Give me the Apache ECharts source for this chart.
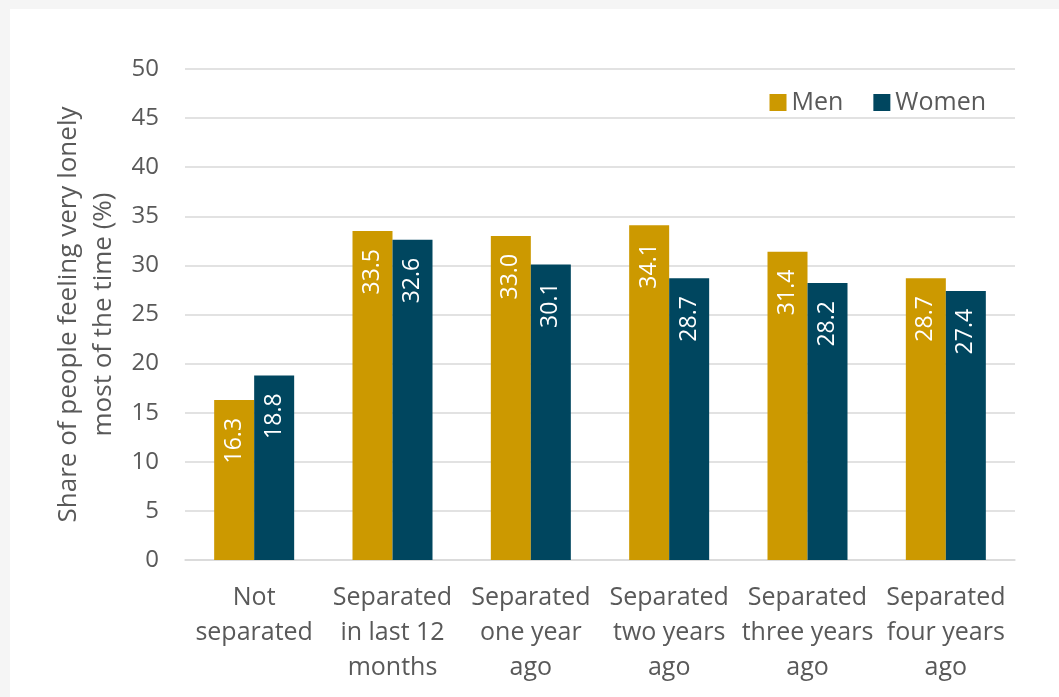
<!DOCTYPE html>
<html>
<head>
<meta charset="utf-8">
<script src="https://cdn.jsdelivr.net/npm/echarts@6/dist/echarts.min.js"></script>
<style>
html,body{margin:0;padding:0;background:#f5f5f5;width:1059px;height:697px;overflow:hidden;}
#panel{position:absolute;left:10px;top:9px;width:1049px;height:688px;background:#fff;}
#chart{position:absolute;left:0;top:0;width:1059px;height:697px;}
</style>
</head>
<body>
<div id="panel"></div>
<div id="chart"></div>
<script>
const categories = ["Not\nseparated", "Separated\nin last 12\nmonths", "Separated\none year\nago", "Separated\ntwo years\nago", "Separated\nthree years\nago", "Separated\nfour years\nago"];
const men = [16.3, 33.5, 33.0, 34.1, 31.4, 28.7];
const women = [18.8, 32.6, 30.1, 28.7, 28.2, 27.4];
const seriesNames = ["Men", "Women"];
const yAxisName = "Share of people feeling very lonely\nmost of the time (%)";

const FONT = "Open Sans";
const TXT = "#595959";
const chart = echarts.init(document.getElementById('chart'), null, {renderer: 'canvas'});
const labelCfg = {
  show: true,
  position: 'insideTop',
  rotate: 90,
  align: 'right',
  verticalAlign: 'middle',
  distance: 18,
  color: '#fff',
  fontFamily: FONT,
  fontSize: 23,
  formatter: p => p.value.toFixed(1)
};
chart.setOption({
  backgroundColor: 'transparent',
  animation: false,
  textStyle: {fontFamily: FONT},
  legend: {
    data: seriesNames,
    right: 68,
    top: 85,
    itemWidth: 17,
    itemHeight: 17,
    itemGap: 30,
    icon: 'rect',
    textStyle: {color: TXT, fontSize: 25, fontFamily: FONT}
  },
  grid: {left: 185, right: 44, top: 69, bottom: 137, containLabel: false},
  xAxis: {
    type: 'category',
    data: categories,
    axisTick: {show: false},
    axisLine: {lineStyle: {color: '#d9d9d9', width: 1.5}},
    axisLabel: {color: TXT, fontSize: 25, fontFamily: FONT, lineHeight: 35, margin: 20, interval: 0}
  },
  yAxis: {
    type: 'value',
    min: 0, max: 50, interval: 5,
    name: yAxisName,
    nameLocation: 'middle',
    nameGap: 58,
    nameRotate: 90,
    nameTextStyle: {color: TXT, fontSize: 26, fontFamily: FONT, lineHeight: 35},
    axisLine: {show: false},
    axisTick: {show: false},
    axisLabel: {color: TXT, fontSize: 24, fontFamily: FONT, margin: 26},
    splitLine: {lineStyle: {color: '#d9d9d9', width: 1.5}}
  },
  series: [
    {name: seriesNames[0], type: 'bar', data: men, barWidth: 40, barGap: '0%', itemStyle: {color: '#CC9900'}, label: labelCfg},
    {name: seriesNames[1], type: 'bar', data: women, barWidth: 40, barGap: '0%', itemStyle: {color: '#00465F'}, label: labelCfg}
  ]
});
</script>
</body>
</html>
